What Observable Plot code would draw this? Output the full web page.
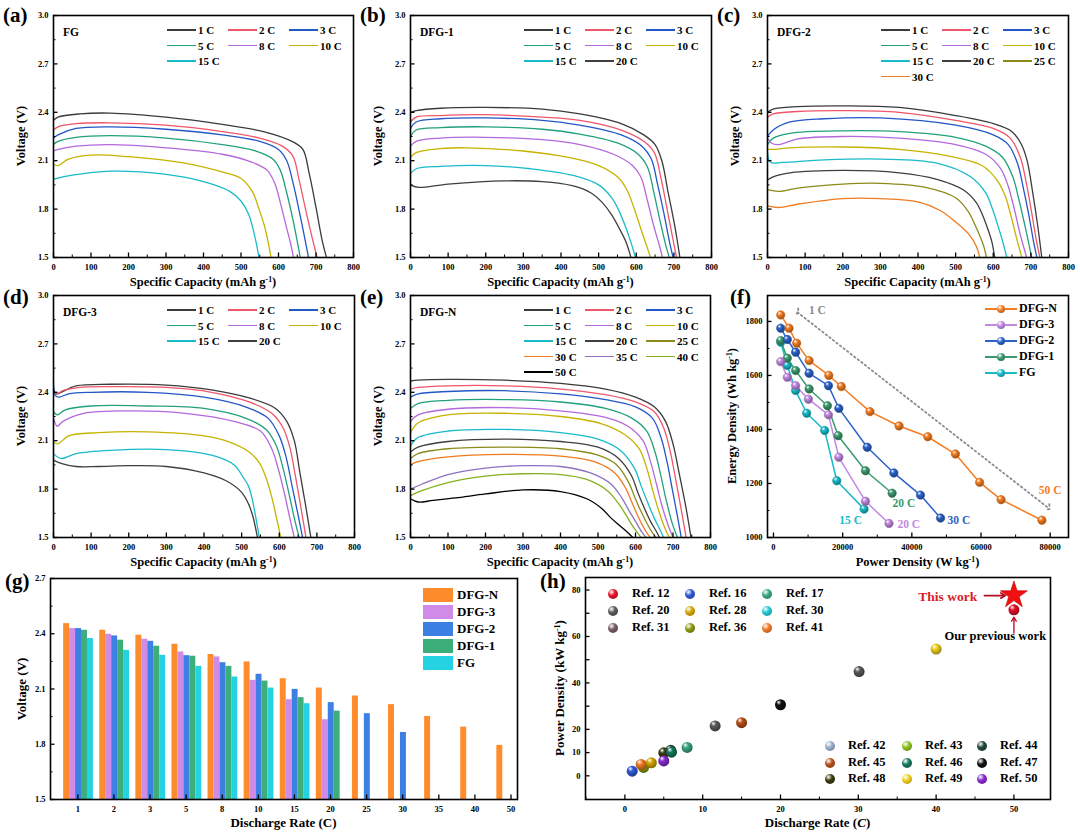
<!DOCTYPE html>
<html><head><meta charset="utf-8">
<script src="https://cdn.jsdelivr.net/npm/d3@7"></script>
<script src="https://cdn.jsdelivr.net/npm/@observablehq/plot@0.6"></script>
<style>
body{margin:0;background:#fff}
#fig{position:relative;width:1080px;height:836px;overflow:hidden;font-family:"Liberation Serif","Times New Roman",serif;font-weight:bold;color:#000}
#fig svg{max-width:none;overflow:visible;background:transparent}
sup{font-size:0.62em;vertical-align:0.5em;line-height:0}
</style></head>
<body><div id="fig"></div>
<script>
// ---------------- DATA ----------------
const capTicks = [0,100,200,300,400,500,600,700,800];
const capMinor = [50,150,250,350,450,550,650,750];
const vTicks = [1.5,1.8,2.1,2.4,2.7,3.0];
const vMinor = [1.65,1.95,2.25,2.55,2.85];

const ratesFG = ["1 C","2 C","3 C","5 C","8 C","10 C","15 C"];
const curvesFG = [
 [[0,2.35],[12,2.37],[70,2.39],[150,2.395],[300,2.37],[450,2.325],[560,2.28],[640,2.215],[665,2.17],[682,2.02],[700,1.81],[717,1.6],[728,1.5]],
 [[0,2.29],[12,2.31],[60,2.33],[150,2.335],[300,2.32],[450,2.28],[550,2.24],[610,2.19],[638,2.13],[655,1.98],[672,1.8],[690,1.62],[703,1.5]],
 [[0,2.24],[12,2.26],[60,2.30],[150,2.31],[300,2.295],[450,2.26],[550,2.22],[600,2.17],[622,2.10],[640,1.95],[656,1.78],[670,1.62],[680,1.5]],
 [[0,2.2],[12,2.22],[60,2.245],[150,2.255],[300,2.24],[450,2.20],[540,2.16],[585,2.11],[605,2.04],[622,1.9],[638,1.74],[650,1.6],[658,1.5]],
 [[0,2.16],[12,2.17],[60,2.19],[150,2.2],[300,2.18],[450,2.14],[530,2.09],[570,2.04],[590,1.96],[607,1.82],[622,1.68],[633,1.58],[640,1.5]],
 [[0,2.08],[12,2.07],[40,2.11],[100,2.135],[200,2.125],[350,2.085],[450,2.03],[500,1.99],[530,1.91],[548,1.8],[562,1.7],[572,1.6],[580,1.5]],
 [[0,1.985],[50,2.01],[150,2.035],[300,2.015],[400,1.97],[470,1.91],[500,1.85],[520,1.77],[535,1.65],[548,1.5]]
];

const ratesD1 = ["1 C","2 C","3 C","5 C","8 C","10 C","15 C","20 C"];
const curvesD1 = [
 [[0,2.40],[15,2.41],[80,2.425],[200,2.43],[350,2.42],[450,2.39],[560,2.33],[620,2.26],[650,2.2],[668,2.1],[685,1.9],[702,1.7],[716,1.5]],
 [[0,2.34],[15,2.37],[80,2.38],[200,2.385],[350,2.37],[450,2.35],[560,2.29],[620,2.22],[648,2.15],[665,2.0],[682,1.8],[697,1.62],[707,1.5]],
 [[0,2.30],[15,2.34],[80,2.36],[200,2.365],[350,2.35],[450,2.32],[560,2.26],[615,2.19],[640,2.11],[657,1.95],[673,1.78],[688,1.6],[698,1.5]],
 [[0,2.25],[15,2.29],[80,2.305],[200,2.31],[350,2.295],[450,2.265],[550,2.21],[605,2.14],[630,2.06],[647,1.9],[663,1.73],[678,1.58],[688,1.5]],
 [[0,2.19],[15,2.22],[80,2.24],[200,2.245],[350,2.23],[450,2.20],[540,2.14],[590,2.07],[612,2.0],[630,1.85],[646,1.7],[662,1.57],[670,1.5]],
 [[0,2.12],[15,2.15],[80,2.175],[150,2.18],[300,2.16],[420,2.12],[500,2.07],[550,2.0],[575,1.92],[595,1.8],[612,1.68],[628,1.57],[638,1.5]],
 [[0,2.02],[15,2.05],[80,2.065],[200,2.07],[320,2.05],[430,2.01],[500,1.95],[535,1.87],[552,1.8],[570,1.7],[585,1.6],[598,1.5]],
 [[0,1.95],[20,1.935],[100,1.955],[250,1.975],[350,1.97],[430,1.945],[480,1.9],[510,1.84],[533,1.77],[555,1.68],[572,1.6],[586,1.5]]
];

const ratesD2 = ["1 C","2 C","3 C","5 C","8 C","10 C","15 C","20 C","25 C","30 C"];
const curvesD2 = [
 [[0,2.40],[15,2.42],[80,2.435],[200,2.44],[350,2.43],[500,2.38],[600,2.33],[650,2.28],[675,2.2],[690,2.1],[705,1.9],[718,1.7],[729,1.5]],
 [[0,2.37],[15,2.39],[80,2.405],[200,2.41],[350,2.40],[500,2.35],[600,2.3],[645,2.24],[672,2.12],[688,1.96],[702,1.78],[715,1.6],[724,1.5]],
 [[0,2.25],[15,2.29],[60,2.34],[150,2.36],[300,2.365],[500,2.32],[600,2.26],[640,2.2],[665,2.08],[680,1.93],[694,1.77],[707,1.6],[716,1.5]],
 [[0,2.2],[15,2.24],[60,2.27],[200,2.285],[350,2.28],[500,2.245],[580,2.19],[625,2.12],[652,2.0],[668,1.86],[682,1.72],[695,1.58],[702,1.5]],
 [[0,2.24],[10,2.21],[30,2.2],[80,2.235],[200,2.25],[350,2.24],[500,2.20],[580,2.14],[620,2.05],[640,1.94],[656,1.8],[672,1.64],[689,1.5]],
 [[0,2.17],[15,2.17],[60,2.18],[200,2.185],[350,2.17],[480,2.13],[570,2.07],[610,1.98],[632,1.88],[648,1.75],[662,1.62],[676,1.5]],
 [[0,2.15],[8,2.09],[40,2.09],[150,2.105],[300,2.11],[450,2.085],[540,2.0],[580,1.9],[598,1.8],[612,1.7],[625,1.6],[636,1.5]],
 [[0,1.98],[15,2.0],[60,2.025],[200,2.04],[350,2.025],[450,1.985],[520,1.92],[555,1.84],[572,1.76],[585,1.68],[596,1.6],[604,1.5]],
 [[0,1.92],[30,1.91],[80,1.93],[200,1.955],[300,1.96],[420,1.935],[500,1.87],[535,1.78],[552,1.7],[565,1.63],[576,1.56],[582,1.5]],
 [[0,1.82],[30,1.81],[80,1.83],[200,1.865],[300,1.865],[400,1.845],[460,1.79],[500,1.72],[535,1.645],[555,1.57],[564,1.5]]
];

const ratesD3 = ["1 C","2 C","3 C","5 C","8 C","10 C","15 C","20 C"];
const curvesD3 = [
 [[0,2.42],[8,2.39],[20,2.40],[60,2.44],[150,2.45],[300,2.445],[420,2.415],[520,2.365],[590,2.3],[620,2.22],[640,2.1],[655,1.9],[670,1.7],[684,1.5]],
 [[0,2.40],[8,2.39],[25,2.41],[70,2.43],[150,2.435],[300,2.43],[420,2.40],[520,2.34],[580,2.27],[610,2.18],[628,2.06],[643,1.88],[658,1.68],[671,1.5]],
 [[0,2.55],[5,2.38],[15,2.37],[40,2.39],[100,2.40],[250,2.40],[400,2.37],[510,2.31],[570,2.24],[600,2.13],[618,2.0],[634,1.82],[650,1.64],[662,1.5]],
 [[0,2.28],[10,2.26],[30,2.29],[100,2.315],[250,2.315],[400,2.30],[510,2.24],[565,2.17],[592,2.07],[610,1.93],[626,1.77],[642,1.6],[653,1.5]],
 [[0,2.24],[10,2.19],[25,2.22],[80,2.27],[200,2.285],[350,2.27],[480,2.22],[550,2.16],[580,2.05],[598,1.92],[614,1.77],[630,1.6],[640,1.5]],
 [[0,2.09],[12,2.08],[40,2.13],[120,2.15],[250,2.155],[400,2.13],[470,2.09],[520,2.03],[548,1.96],[565,1.87],[580,1.75],[592,1.63],[604,1.5]],
 [[0,2.02],[20,1.99],[60,2.02],[150,2.04],[300,2.045],[420,2.01],[480,1.95],[505,1.87],[518,1.82],[528,1.74],[538,1.62],[547,1.5]],
 [[0,1.98],[20,1.96],[60,1.94],[120,1.94],[200,1.945],[300,1.94],[400,1.9],[460,1.85],[500,1.78],[518,1.71],[530,1.63],[542,1.5]]
];

const ratesDN = ["1 C","2 C","3 C","5 C","8 C","10 C","15 C","20 C","25 C","30 C","35 C","40 C","50 C"];
const curvesDN = [
 [[0,2.47],[20,2.475],[100,2.48],[250,2.475],[400,2.455],[520,2.42],[600,2.37],[650,2.31],[680,2.22],[700,2.08],[718,1.88],[735,1.68],[748,1.5]],
 [[0,2.42],[20,2.43],[100,2.44],[250,2.44],[400,2.42],[520,2.385],[600,2.34],[650,2.28],[675,2.18],[692,2.04],[708,1.85],[723,1.66],[735,1.5]],
 [[0,2.37],[20,2.39],[100,2.405],[250,2.41],[400,2.39],[520,2.355],[600,2.31],[645,2.24],[668,2.12],[684,1.97],[698,1.8],[712,1.63],[722,1.5]],
 [[0,2.30],[20,2.33],[100,2.35],[250,2.355],[400,2.34],[520,2.3],[590,2.24],[630,2.16],[652,2.03],[667,1.89],[682,1.73],[699,1.58],[712,1.5]],
 [[0,2.22],[20,2.26],[100,2.295],[250,2.305],[400,2.285],[520,2.245],[580,2.19],[620,2.1],[640,1.97],[656,1.83],[670,1.7],[688,1.57],[700,1.5]],
 [[0,2.15],[20,2.21],[100,2.26],[250,2.27],[400,2.25],[510,2.205],[570,2.14],[610,2.05],[630,1.93],[645,1.8],[660,1.68],[678,1.56],[690,1.5]],
 [[0,2.07],[20,2.12],[100,2.16],[250,2.17],[400,2.15],[500,2.11],[560,2.04],[597,1.93],[615,1.82],[632,1.72],[650,1.62],[665,1.55],[675,1.5]],
 [[0,2.03],[20,2.06],[100,2.095],[250,2.11],[400,2.095],[500,2.06],[555,1.99],[590,1.88],[606,1.78],[622,1.69],[640,1.6],[655,1.54],[664,1.5]],
 [[0,1.99],[20,2.02],[100,2.05],[250,2.06],[400,2.05],[500,2.01],[550,1.95],[582,1.84],[598,1.75],[613,1.67],[630,1.59],[645,1.53],[655,1.5]],
 [[0,1.95],[20,1.97],[100,2.0],[250,2.015],[400,2.005],[490,1.97],[545,1.9],[575,1.8],[590,1.72],[605,1.64],[620,1.57],[633,1.52],[640,1.5]],
 [[0,1.80],[30,1.83],[100,1.89],[200,1.93],[300,1.945],[400,1.94],[480,1.9],[535,1.83],[565,1.74],[582,1.67],[600,1.6],[618,1.53],[628,1.5]],
 [[0,1.76],[30,1.79],[100,1.84],[200,1.88],[300,1.895],[400,1.89],[470,1.86],[525,1.79],[555,1.71],[572,1.65],[590,1.58],[605,1.53],[615,1.5]],
 [[0,1.74],[20,1.72],[60,1.73],[120,1.745],[200,1.77],[300,1.795],[400,1.785],[470,1.74],[510,1.68],[535,1.62],[560,1.57],[580,1.53],[593,1.5]]
];

// Panel f: Ragone
const fSeries = ["DFG-N","DFG-3","DFG-2","DFG-1","FG"];
const fPowerN = [2100,4500,6700,10300,16000,19600,27900,36300,44600,52600,59600,65800,77600];
const fEnergyN = [1824,1775,1719,1655,1600,1559,1466,1413,1373,1309,1204,1140,1064];
const fPower3 = [2100,4000,6400,10100,15900,18900,26600,33400];
const fEnergy3 = [1651,1593,1562,1512,1454,1297,1134,1052];
const fPower2 = [2100,4000,6400,10300,15900,18900,27100,34800,42500,48300];
const fEnergy2 = [1775,1733,1686,1608,1562,1478,1334,1239,1157,1072];
const fPower1 = [2100,4000,6400,10300,15600,18700,26600,34300];
const fEnergy1 = [1729,1664,1618,1550,1488,1377,1247,1164];
const fPowerFG = [2100,4000,6400,9600,14800,18300,26200];
const fEnergyFG = [1723,1637,1544,1460,1396,1210,1105];
const fNotes = ["1 C","50 C","30 C","20 C","20 C","15 C"];
const fNoteP = [12700,80000,53600,39100,37700,22300];
const fNoteE = [1843,1175,1064,1049,1126,1064];
const fArrowP = [6900,79500];
const fArrowE = [1834,1109];

// Panel g: bars
const gRates = ["1","2","3","5","8","10","15","20","25","30","35","40","50"];
const gSeries = ["DFG-N","DFG-3","DFG-2","DFG-1","FG"];
const gDFGN = [2.455,2.419,2.392,2.343,2.287,2.247,2.156,2.105,2.062,2.015,1.951,1.893,1.794];
const gDFG3 = [2.428,2.397,2.370,2.301,2.274,2.147,2.042,1.933];
const gDFG2 = [2.428,2.388,2.359,2.281,2.243,2.180,2.098,2.026,1.966,1.864];
const gDFG1 = [2.419,2.365,2.332,2.278,2.223,2.143,2.053,1.980];
const gFG   = [2.374,2.310,2.283,2.223,2.165,2.105,2.020];

// Panel h: comparison
const hRefs  = ["Ref. 16","Ref. 36","Ref. 41","Ref. 28","Ref. 48","Ref. 44","Ref. 46","Ref. 50","Ref. 17","Ref. 20","Ref. 45","Ref. 47","Ref. 20","Ref. 49","Ref. 12"];
const hRate  = [0.94,2.4,2.1,3.4,5.0,5.9,6.0,5.0,8.0,11.6,15.0,20.0,30.1,40.0,50.0];
const hPower = [2.0,3.6,4.9,5.6,9.9,11.0,10.2,6.4,12.2,21.5,22.9,30.6,44.9,54.6,71.5];
const hThisRate = [50], hThisPower = [77.8];
const hLegendA = ["Ref. 12","Ref. 16","Ref. 17","Ref. 20","Ref. 28","Ref. 30","Ref. 31","Ref. 36","Ref. 41"];
const hLegendB = ["Ref. 42","Ref. 43","Ref. 44","Ref. 45","Ref. 46","Ref. 47","Ref. 48","Ref. 49","Ref. 50"];

// ---------------- STYLES ----------------
const rateColor = {"1 C":"#3b3b3b","2 C":"#f0566c","3 C":"#2357c6","5 C":"#22a07e","8 C":"#b468dc","10 C":"#c6b300","15 C":"#19bac9","20 C":"#3f3f3f","25 C":"#8b8b1b","30 C":"#f07a1e","35 C":"#8d72c0","40 C":"#84b01e","50 C":"#000000"};
const seriesColor = {"DFG-N":"#f57d22","DFG-3":"#c288e2","DFG-2":"#2b63c9","DFG-1":"#3c9a70","FG":"#18bac8"};
const barColor = {"DFG-N":"#ff8c2c","DFG-3":"#d08ae8","DFG-2":"#3b80e2","DFG-1":"#3cae7a","FG":"#24d2e2"};
const refColor = {"Ref. 12":"#e8102a","Ref. 16":"#2f5ad8","Ref. 17":"#3aa882","Ref. 20":"#5a5a5a","Ref. 28":"#d4a800","Ref. 30":"#22c8d0","Ref. 31":"#7a5a62","Ref. 36":"#8a9a10","Ref. 41":"#f07a28","Ref. 42":"#9ab0cc","Ref. 43":"#90c020","Ref. 44":"#1f4a38","Ref. 45":"#b8501a","Ref. 46":"#14785a","Ref. 47":"#111111","Ref. 48":"#3a3a10","Ref. 49":"#f0d020","Ref. 50":"#8a2ad0"};

const fig = document.getElementById("fig");
function el(css, html) { const e = document.createElement("div"); e.style.cssText = "position:absolute;white-space:nowrap;" + css; if (html != null) e.innerHTML = html; fig.appendChild(e); return e; }
function ctext(x, y, html, size, extra="") { return el(`left:${x}px;top:${y}px;transform:translate(-50%,-50%);font-size:${size}px;line-height:1.1;${extra}`, html); }
function ltext(x, y, html, size, extra="") { return el(`left:${x}px;top:${y}px;transform:translate(0,-50%);font-size:${size}px;line-height:1.1;${extra}`, html); }
function vtext(x, y, html, size) { return el(`left:${x}px;top:${y}px;transform:translate(-50%,-50%) rotate(-90deg);font-size:${size}px;line-height:1.1;`, html); }
function letter(x, y, s) { return el(`left:${x}px;top:${y}px;font-size:21px;line-height:1;`, s); }
function sphereCSS(c) { return `background:radial-gradient(circle at 35% 30%, #fff 0%, ${c} 38%, ${d3.color(c).darker(1.3).formatHex()} 100%);border-radius:50%;`; }

function addGradients(svg, map) {
  const defs = d3.select(svg).insert("defs", ":first-child");
  for (const [id, c] of Object.entries(map)) {
    const g = defs.append("radialGradient").attr("id", id).attr("cx","42%").attr("cy","38%").attr("r","62%").attr("fx","32%").attr("fy","26%");
    g.append("stop").attr("offset","0%").attr("stop-color","#fff");
    g.append("stop").attr("offset","38%").attr("stop-color", c);
    g.append("stop").attr("offset","100%").attr("stop-color", d3.color(c).darker(1.3).formatHex());
  }
}

const ML = 46, MR = 6, MT = 8, MB = 24;
function panel(frame, o) {
  const [l, t, r, b] = frame;
  const W = r - l, H = b - t;
  const marks = [
    ...o.marks,
    Plot.tickX(o.xMinor, {x: d => d, insetTop: H - 2.5, stroke: "#000", strokeWidth: 1}),
    Plot.tickX(o.xTicks, {x: d => d, insetTop: H - 4.5, stroke: "#000", strokeWidth: 1.3}),
    Plot.tickY(o.yMinor, {y: d => d, insetRight: W - 2.5, stroke: "#000", strokeWidth: 1}),
    Plot.tickY(o.yTicks, {y: d => d, insetRight: W - 4.5, stroke: "#000", strokeWidth: 1.3}),
    Plot.axisX({ticks: o.xLabels || o.xTicks, tickSize: 0, tickPadding: 6, label: null, tickFormat: o.xFormat || (d => String(d))}),
    Plot.axisY({ticks: o.yLabels || o.yTicks, tickSize: 0, tickPadding: 5, label: null, tickFormat: o.yFormat || (d => String(d))}),
    Plot.frame({stroke: "#000", strokeWidth: 1.6})
  ];
  const svg = Plot.plot({
    width: W + ML + MR, height: H + MT + MB,
    marginLeft: ML, marginRight: MR, marginTop: MT, marginBottom: MB,
    x: {type: "linear", domain: o.xDomain}, y: {type: "linear", domain: o.yDomain},
    style: {fontFamily: '"Liberation Serif","Times New Roman",serif', fontWeight: "bold", fontSize: "8.5px", color: "#000", background: "transparent", overflow: "visible"},
    marks
  });
  svg.style.position = "absolute";
  svg.style.left = (l - ML) + "px";
  svg.style.top = (t - MT) + "px";
  fig.appendChild(svg);
  return svg;
}

function curvePanel(frame, lab, labTop, name, rates, curves) {
  const [l, t, r, b] = frame;
  const marks = curves.map((pts, i) => Plot.line(pts, {x: d => d[0], y: d => d[1], stroke: rateColor[rates[i]], strokeWidth: 1.3, curve: "catmull-rom", clip: true}));
  panel(frame, {xDomain: [0, 800], yDomain: [1.5, 3.0], xTicks: capTicks, xMinor: capMinor, yTicks: vTicks, yMinor: vMinor, yFormat: d3.format(".1f"), marks});
  rates.forEach((rt, i) => {
    const col = i % 3, row = Math.floor(i / 3);
    const x = l + 114 + col * 61, y = t + 15 + row * 15.5;
    el(`left:${x}px;top:${y - 0.8}px;width:29px;height:1.6px;background:${rateColor[rt]}`);
    ltext(x + 31, y, rt, 11);
  });
  ltext(l + 10, t + 17, name, 11.5);
  letter(l - 50, labTop, lab);
  vtext(l - 31, (t + b) / 2, "Voltage (V)", 12.5);
  ctext((l + r) / 2, b + 26, "Specific Capacity (mAh g<sup>-1</sup>)", 12.5);
}

// ---------------- PANELS a–e ----------------
curvePanel([53, 15, 353, 257], "(a)", 5, "FG", ratesFG, curvesFG);
curvePanel([410, 15, 711, 257], "(b)", 5, "DFG-1", ratesD1, curvesD1);
curvePanel([767, 15, 1068, 257], "(c)", 5, "DFG-2", ratesD2, curvesD2);
curvePanel([53, 295, 354, 537], "(d)", 287, "DFG-3", ratesD3, curvesD3);
curvePanel([410, 295, 710, 537], "(e)", 287, "DFG-N", ratesDN, curvesDN);

// ---------------- PANEL f ----------------
{
  const frame = [767, 295, 1068, 537];
  const [l, t, r, b] = frame;
  const sets = [[fPowerN, fEnergyN], [fPower3, fEnergy3], [fPower2, fEnergy2], [fPower1, fEnergy1], [fPowerFG, fEnergyFG]];
  const noteColor = ["#8a8a8a", seriesColor["DFG-N"], seriesColor["DFG-2"], seriesColor["DFG-3"], seriesColor["DFG-1"], seriesColor["FG"]];
  const marks = [
    Plot.line(fArrowP.map((p, i) => [p, fArrowE[i]]), {x: d => d[0], y: d => d[1], stroke: "#8c8c8c", strokeWidth: 1.8, strokeDasharray: "1.5,3", markerStart: "arrow", markerEnd: "arrow"}),
  ];
  const order = [4, 3, 1, 2, 0];
  order.forEach(i => {
    const pts = sets[i][0].map((p, k) => [p, sets[i][1][k]]);
    marks.push(Plot.line(pts, {x: d => d[0], y: d => d[1], stroke: seriesColor[fSeries[i]], strokeWidth: 1.5}));
  });
  order.forEach(i => {
    const pts = sets[i][0].map((p, k) => [p, sets[i][1][k]]);
    marks.push(Plot.dot(pts, {x: d => d[0], y: d => d[1], r: 4.2, fill: `url(#gf${i})`, stroke: d3.color(seriesColor[fSeries[i]]).darker(0.6).formatHex(), strokeWidth: 0.6}));
  });
  marks.push(Plot.text(fNotes.map((s, i) => ({s, p: fNoteP[i], e: fNoteE[i], c: noteColor[i]})), {x: "p", y: "e", text: "s", fill: d => d.c, fontSize: 11.5}));
  const svg = panel(frame, {
    xDomain: [-1730, 85290], yDomain: [1000, 1896],
    xTicks: [0, 20000, 40000, 60000, 80000], xMinor: [10000, 30000, 50000, 70000],
    yTicks: [1000, 1200, 1400, 1600, 1800], yMinor: [1100, 1300, 1500, 1700],
    marks
  });
  const gm = {}; fSeries.forEach((s, i) => gm["gf" + i] = seriesColor[s]);
  addGradients(svg, gm);
  fSeries.forEach((s, i) => {
    const y = 309 + i * 16;
    el(`left:985px;top:${y - 0.8}px;width:32px;height:1.6px;background:${seriesColor[s]}`);
    el(`left:997px;top:${y - 4}px;width:8px;height:8px;${sphereCSS(seriesColor[s])}`);
    ltext(1019, y, s, 12);
  });
  letter(l - 37, 287, "(f)");
  vtext(l - 34, (t + b) / 2, "Energy Density (Wh kg<sup>-1</sup>)", 12.5);
  ctext((l + r) / 2, b + 26, "Power Density (W kg<sup>-1</sup>)", 12.5);
}

// ---------------- PANEL g ----------------
{
  const frame = [50, 578, 517, 799];
  const [l, t, r, b] = frame;
  const vals = [gDFGN, gDFG3, gDFG2, gDFG1, gFG];
  const offs = [-0.31, -0.145, 0.02, 0.185, 0.35];
  const w = 0.165;
  const marks = [];
  gSeries.forEach((s, si) => {
    const data = vals[si].map((v, i) => ({i, v}));
    marks.push(Plot.rectY(data, {x1: d => d.i + offs[si] - w / 2, x2: d => d.i + offs[si] + w / 2, y1: 1.5, y2: d => d.v, fill: barColor[s], clip: true}));
  });
  const idx = gRates.map((_, i) => i);
  panel(frame, {
    xDomain: [-0.757, 12.18], yDomain: [1.5, 2.7],
    xTicks: idx, xMinor: [], xFormat: i => gRates[i],
    yTicks: [1.5, 1.8, 2.1, 2.4, 2.7], yMinor: [1.65, 1.95, 2.25, 2.55], yFormat: d3.format(".1f"),
    marks
  });
  gSeries.forEach((s, i) => {
    const y = 595 + i * 17;
    el(`left:423px;top:${y - 7}px;width:30px;height:14px;background:${barColor[s]}`);
    ltext(457, y, s, 13);
  });
  letter(5, 571, "(g)");
  vtext(l - 28, (t + b) / 2, "Voltage (V)", 13);
  ctext((l + r) / 2, b + 24, "Discharge Rate (C)", 13);
}

// ---------------- PANEL h ----------------
{
  const frame = [585, 577, 1050, 799];
  const [l, t, r, b] = frame;
  const refIds = Object.keys(refColor);
  const marks = [];
  hRefs.forEach((ref, i) => {
    marks.push(Plot.dot([[hRate[i], hPower[i]]], {x: d => d[0], y: d => d[1], r: 5.5, fill: `url(#gh${refIds.indexOf(ref)})`}));
  });
  marks.push(Plot.arrow([{x1: 50, y1: 61.5, x2: 50, y2: 68.3}], {x1: "x1", y1: "y1", x2: "x2", y2: "y2", stroke: "#c0102a", strokeWidth: 1.4, headLength: 5}));
  marks.push(Plot.arrow([{x1: 46.2, y1: 77.6, x2: 48.9, y2: 77.6}], {x1: "x1", y1: "y1", x2: "x2", y2: "y2", stroke: "#b01020", strokeWidth: 1.6, headLength: 5}));
  marks.push(Plot.dot(hThisRate.map((x, i) => [x, hThisPower[i]]), {x: d => d[0], y: d => d[1], symbol: "star", r: 8.5, fill: "#f01010", stroke: "#c00000", strokeWidth: 0.6}));
  marks.push(Plot.text([{x: 41.5, y: 77.3, s: "This work"}], {x: "x", y: "y", text: "s", fill: "#d81c2a", fontSize: 13.5}));
  marks.push(Plot.text([{x: 47.6, y: 60.0, s: "Our previous work"}], {x: "x", y: "y", text: "s", fill: "#000", fontSize: 12.5}));
  const svg = panel(frame, {
    xDomain: [-5.06, 54.7], yDomain: [-10.2, 85.4],
    xTicks: [0, 10, 20, 30, 40, 50], xMinor: [-5, 5, 15, 25, 35, 45],
    yTicks: [0, 10, 20, 30, 40, 50, 60, 70, 80], yMinor: [], yLabels: [0, 10, 20, 40, 60, 80],
    marks
  });
  const gm = {}; refIds.forEach((k, i) => gm["gh" + i] = refColor[k]);
  addGradients(svg, gm);
  const colA = [613, 690, 767], rowA = [594, 611, 628];
  hLegendA.forEach((ref, i) => {
    const cx = colA[i % 3], cy = rowA[Math.floor(i / 3)];
    el(`left:${cx - 5}px;top:${cy - 5}px;width:10px;height:10px;${sphereCSS(refColor[ref])}`);
    ltext(cx + 19, cy, ref, 12.5);
  });
  const colB = [830, 907, 982], rowB = [746, 763, 779];
  hLegendB.forEach((ref, i) => {
    const cx = colB[i % 3], cy = rowB[Math.floor(i / 3)];
    el(`left:${cx - 5}px;top:${cy - 5}px;width:10px;height:10px;${sphereCSS(refColor[ref])}`);
    ltext(cx + 18, cy, ref, 12.5);
  });
  letter(540, 571, "(h)");
  vtext(l - 25, (t + b) / 2, "Power Density (kW kg<sup>-1</sup>)", 13);
  ctext((l + r) / 2, b + 24, "Discharge Rate (<i>C</i>)", 13);
}
</script></body></html>
